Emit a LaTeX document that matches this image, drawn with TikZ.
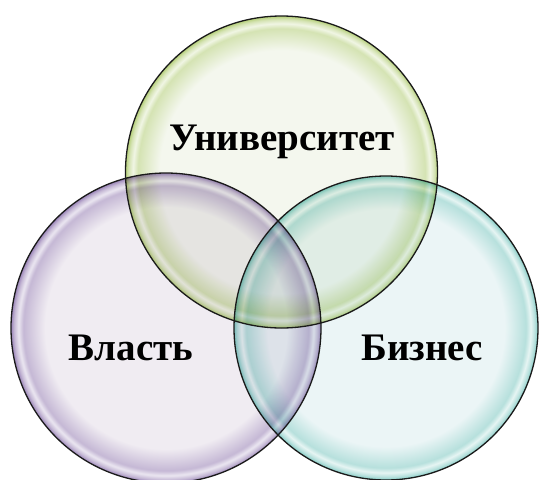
\documentclass[tikz,border=0pt]{standalone}
\usepackage{fontspec}
\setmainfont{Liberation Serif}
\definecolor{gIn}{HTML}{F4F7EE}
\definecolor{gRim}{HTML}{B5CF78}
\definecolor{pIn}{HTML}{F0ECF2}
\definecolor{pRim}{HTML}{9A84B8}
\definecolor{tIn}{HTML}{EBF5F6}
\definecolor{tRim}{HTML}{82CBC3}
\definecolor{edge}{HTML}{1A1A1A}
\colorlet{gMid}{gRim!50!gIn}
\colorlet{gHi}{gRim!20!white}
\colorlet{pMid}{pRim!50!pIn}
\colorlet{pHi}{pRim!20!white}
\colorlet{tMid}{tRim!50!tIn}
\colorlet{tHi}{tRim!20!white}
\pgfdeclareradialshading{bubG}{\pgfpoint{0bp}{0bp}}{color(0bp)=(gIn); color(19.5bp)=(gIn); color(23.0bp)=(gMid); color(23.8bp)=(gHi); color(24.5bp)=(gMid); color(25bp)=(gRim); color(50bp)=(gRim)}
\pgfdeclareradialshading{bubP}{\pgfpoint{0bp}{0bp}}{color(0bp)=(pIn); color(19.5bp)=(pIn); color(23.0bp)=(pMid); color(23.8bp)=(pHi); color(24.5bp)=(pMid); color(25bp)=(pRim); color(50bp)=(pRim)}
\pgfdeclareradialshading{bubT}{\pgfpoint{0bp}{0bp}}{color(0bp)=(tIn); color(19.5bp)=(tIn); color(23.0bp)=(tMid); color(23.8bp)=(tHi); color(24.5bp)=(tMid); color(25bp)=(tRim); color(50bp)=(tRim)}
\tikzset{
  rimline/.style={draw=edge, line width=1.3pt},
  label/.style={font=\bfseries\fontsize{39}{44}\selectfont, text=black, inner sep=0pt}
}
\begin{document}
\begin{tikzpicture}[x=1pt,y=-1pt]
\useasboundingbox (0,0) rectangle (539,480);
\fill[white] (0,0) rectangle (539,480);
\coordinate (ct) at (281.5,172);
\coordinate (cl) at (166,328);
\coordinate (cr) at (386,328);
\begin{scope}
  \clip (0,0) rectangle (539,480);
  \begin{scope}[blend mode=multiply]
    \path[shading=bubG] (ct) circle[radius=156];
    \path[shading=bubP] (cl) circle[radius=155];
    \path[shading=bubT] (cr) circle[radius=152];
  \end{scope}
  \draw[rimline] (ct) circle[radius=156];
  \draw[rimline] (cl) circle[radius=155];
  \draw[rimline] (cr) circle[radius=152];
\end{scope}
\node[label] (uni) at (282,142) {Университет};
\node[label] (vl) at (131,348) {Власть};
\node[label] (bz) at (422,348) {Бизнес};
\end{tikzpicture}
\end{document}
